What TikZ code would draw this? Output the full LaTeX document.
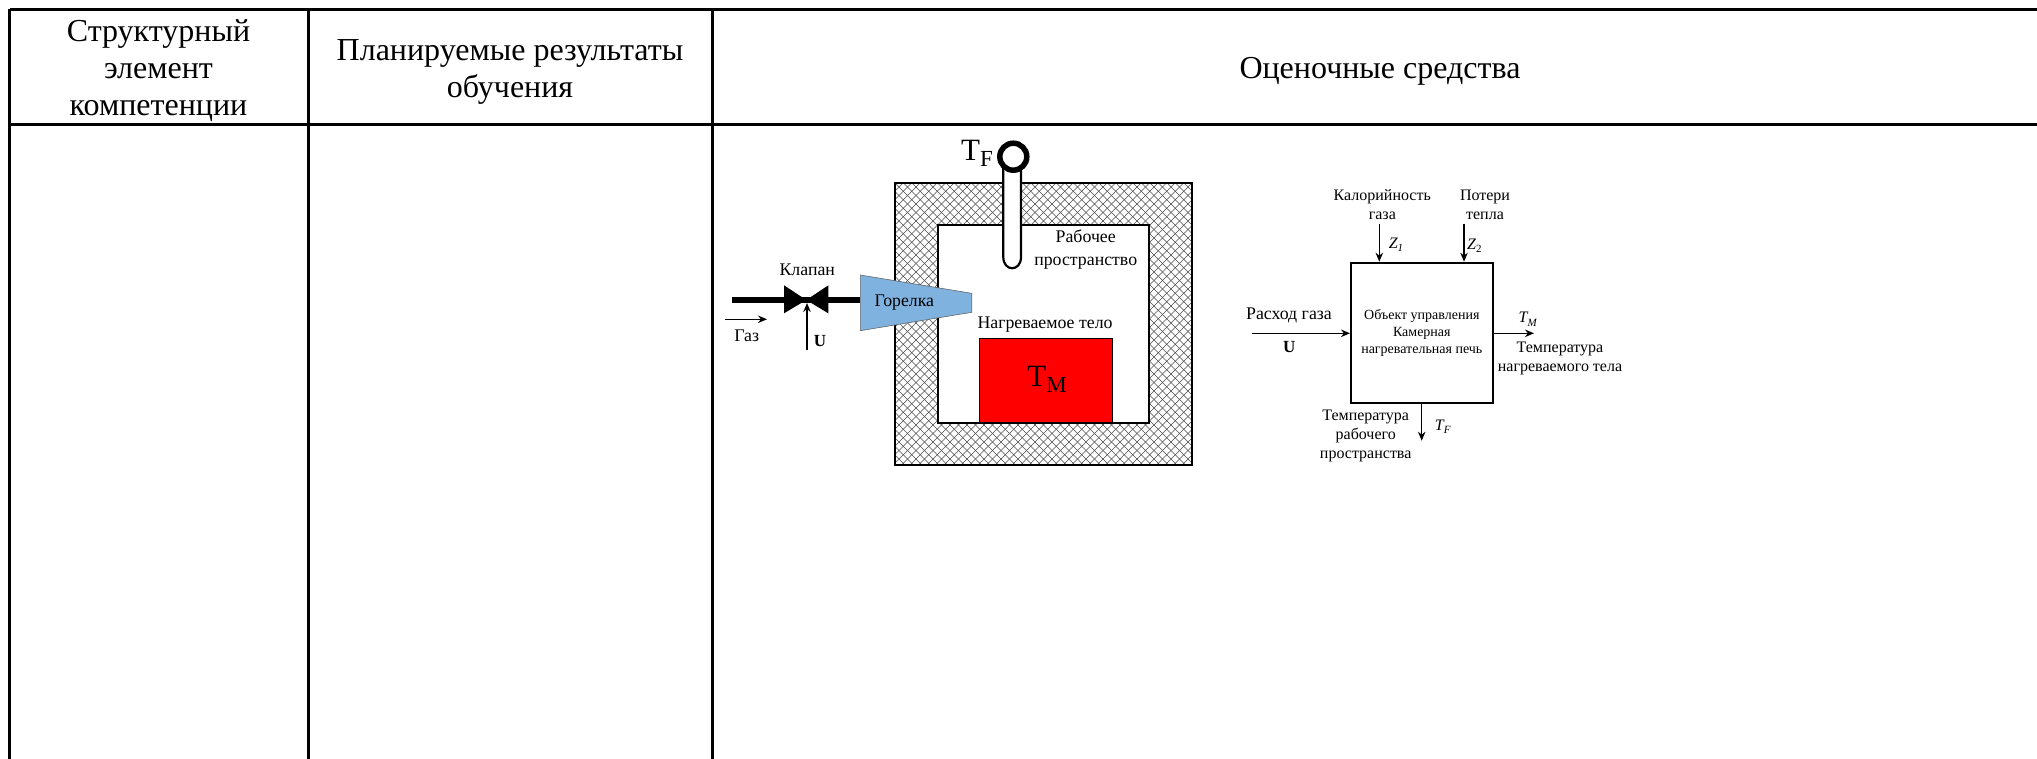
\documentclass[tikz,border=0pt]{standalone}
\usepackage{fontspec}
\setmainfont{Liberation Serif}
\usetikzlibrary{arrows.meta}
\newcommand{\fs}[1]{\fontsize{#1}{#1}\selectfont}
\definecolor{burner}{HTML}{7FB2DE}
\tikzset{
 gridline/.style={draw=black,line width=3.2pt},
 lbl/.style={inner sep=0pt,align=center,font=\fs{17.8}},
 hdr/.style={inner sep=0pt,align=center,font=\fontsize{32}{37}\selectfont},
 sm/.style={inner sep=0pt,align=center,font=\fontsize{16}{19.2}\selectfont},
 arr/.style={draw=black,line width=1.4pt,-{Stealth[length=9pt,width=7.5pt]}},
}
\begin{document}
\begin{tikzpicture}[x=1pt,y=-1pt]
\useasboundingbox[fill=white] (0,0) rectangle (2037,759);
% table
\coordinate (tl) at (9.7,9.5); \coordinate (tr) at (2037,9.5);
\coordinate (ml) at (9.7,124.3); \coordinate (mr) at (2037,124.3);
\coordinate (b1) at (9.7,759); \coordinate (b2) at (308.3,759); \coordinate (b3) at (712.6,759);
\coordinate (t2) at (308.3,9.5); \coordinate (t3) at (712.6,9.5);
\draw[gridline] (tl)--(tr) (ml)--(mr) (tl)--(b1) (t2)--(b2) (t3)--(b3);
\node[hdr] (h1) at (158.5,70.5) {Структурный\\элемент\\компетенции};
\node[hdr] (h2) at (510,71.5) {Планируемые результаты\\обучения};
\node[hdr] (h3) at (1380,71) {Оценочные средства};
% furnace walls
\begin{scope}
\clip (894.7,182.7) rectangle (1191.7,465.3);
\foreach \i in {-40,...,70}{
 \draw[line width=.55pt,black!70] (894.7+\i*8.5,182.7)--++(300,300);
 \draw[line width=.55pt,black!70] (894.7+\i*8.5,182.7)--++(-300,300);
}
\end{scope}
\draw[line width=2.2pt] (894.7,182.7) rectangle (1191.7,465.3);
\draw[line width=2.2pt,fill=white] (937.7,225.3) rectangle (1149,422.7);
% thermocouple
\draw[line width=2.2pt,fill=white] (1003.3,165) -- (1003.3,257) .. controls (1003.3,272) and (1021,272) .. (1021,257) -- (1021,165);
\node[draw=black,line width=5.5pt,fill=white,circle,minimum size=27pt,inner sep=0pt,outer sep=0pt] (therm) at (1013.3,156.7) {};
\node[inner sep=0pt,font=\fs{31}] (tf) at (977,153) {T\raisebox{-.2em}{\fs{23}F}};
% burner, pipe, valve
\draw[line width=6pt] (732,300) -- (860.3,300);
\fill[black] (784,285.3) -- (806.3,300) -- (784,313.3) -- cycle;
\fill[black] (828.3,285.3) -- (806.3,300) -- (828.3,313.3) -- cycle;
\draw[line width=.6pt,black!60,fill=burner] (860.3,275) -- (971.7,293.3) -- (971.7,312.3) -- (860.3,330.7) -- cycle;
\node[lbl] (gor) at (904.3,302.5) {Горелка};
\node[lbl] (kl) at (807.3,269.3) {Клапан};
\coordinate (ua) at (807,350); \coordinate (ub) at (807,303);
\draw[arr] (ua)--(ub);
\node[lbl,font=\bfseries\fs{17}] (uu) at (820,341) {U};
\coordinate (ga) at (725,319.3); \coordinate (gb) at (767,319.3);
\draw[arr] (ga)--(gb);
\node[lbl] (gaz) at (746.7,336) {Газ};
\fill[red] (979.7,338.7) rectangle (1112.3,421.8);
\draw[line width=.5pt,black] (979.7,422) -- (979.7,338.7) -- (1112.3,338.7) -- (1112.3,422);
\node[inner sep=0pt,font=\fs{31}] (tm) at (1047,379) {T\raisebox{-.2em}{\fs{23}M}};
\node[lbl] (rab) at (1085.7,249.6) {Рабочее\\[4.5pt]пространство};
\node[lbl] (nag) at (1045,325) {Нагреваемое тело};
% block diagram
\node[draw=black,line width=2pt,minimum width=141.7pt,minimum height=140.6pt,inner sep=0pt,align=center,font=\fontsize{14}{17}\selectfont] (obj) at (1421.8,333) {\raisebox{-2pt}{Объект управления}\\\raisebox{-2pt}{Камерная}\\\raisebox{-2pt}{нагревательная печь}};
\coordinate (z1a) at (1379.3,224); \coordinate (z1b) at (1379.3,261.7);
\coordinate (z2a) at (1464,224); \coordinate (z2b) at (1464,261.7);
\coordinate (ina) at (1252.3,333.3); \coordinate (inb) at (1350,333.3);
\coordinate (outa) at (1493,333.3); \coordinate (outb) at (1534,333.3);
\coordinate (dna) at (1421.7,404); \coordinate (dnb) at (1421.7,440.7);
\draw[arr] (z1a)--(z1b);
\draw[arr] (z2a)--(z2b);
\draw[arr] (ina)--(inb);
\draw[arr] (outa)--(outb);
\draw[arr] (dna)--(dnb);
\node[sm] (kal) at (1382.3,205) {Калорийность\\газа};
\node[sm] (pot) at (1485,205) {Потери\\тепла};
\node[inner sep=0pt,font=\itshape\fs{16}] (z1) at (1396,245) {Z\raisebox{-.2em}{\fs{11}1}};
\node[inner sep=0pt,font=\itshape\fs{16}] (z2) at (1474.3,246) {Z\raisebox{-.2em}{\fs{11}\upshape 2}};
\node[lbl] (ras) at (1289,315) {Расход газа};
\node[lbl,font=\bfseries\fs{17}] (u2) at (1289.3,347) {U};
\node[inner sep=0pt,font=\itshape\fs{16}] (tm2) at (1527.7,319.3) {T\raisebox{-.2em}{\fs{11}M}};
\node[sm] (tmt) at (1560,358.5) {Температура\\нагреваемого тела};
\node[inner sep=0pt,font=\itshape\fs{16}] (tf2) at (1442.7,427) {T\raisebox{-.2em}{\fs{11}F}};
\node[sm] (tft) at (1365.7,436) {Температура\\рабочего\\пространства};
\end{tikzpicture}
\end{document}
